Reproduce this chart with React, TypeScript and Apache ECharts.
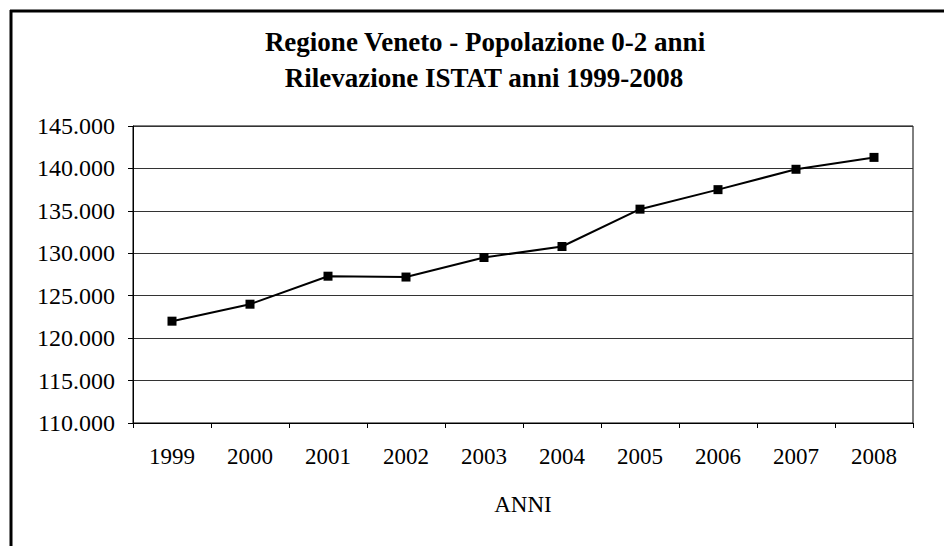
import React, { useEffect, useRef } from "react";
import * as echarts from "echarts";

const years = ["1999", "2000", "2001", "2002", "2003", "2004", "2005", "2006", "2007", "2008"];
const population = [122000, 124000, 127300, 127200, 129500, 130800, 135200, 137500, 139900, 141300];
const titleLine1 = "Regione Veneto - Popolazione 0-2 anni";
const titleLine2 = "Rilevazione ISTAT anni 1999-2008";
const xAxisName = "ANNI";
const yMin = 110000;
const yMax = 145000;
const yStep = 5000;

const FONT = "'Liberation Serif', 'Times New Roman', serif";

function fmt(v: number): string {
  return String(v).replace(/\B(?=(\d{3})+(?!\d))/g, ".");
}

export default function App() {
  const ref = useRef<HTMLDivElement>(null);
  useEffect(() => {
    if (!ref.current) return;
    const chart = echarts.init(ref.current, undefined, { renderer: "svg" });
    chart.setOption({
      animation: false,
      backgroundColor: "#ffffff",
      textStyle: { fontFamily: FONT, color: "#000" },
      graphic: [
        {
          type: "line",
          shape: { x1: 10, y1: 11, x2: 944, y2: 11 },
          style: { stroke: "#000", lineWidth: 3 },
        },
        {
          type: "line",
          shape: { x1: 11, y1: 10, x2: 11, y2: 546 },
          style: { stroke: "#000", lineWidth: 3 },
        },
        {
          type: "text",
          x: 485,
          y: 42,
          style: {
            text: titleLine1,
            textAlign: "center",
            textVerticalAlign: "middle",
            font: `bold 27px ${FONT}`,
            fill: "#000",
          },
        },
        {
          type: "text",
          x: 484,
          y: 78,
          style: {
            text: titleLine2,
            textAlign: "center",
            textVerticalAlign: "middle",
            font: `bold 27px ${FONT}`,
            fill: "#000",
          },
        },
      ],
      grid: {
        left: 133,
        right: 31,
        top: 126,
        bottom: 123,
        show: true,
        borderColor: "#000",
        borderWidth: 1,
        backgroundColor: "transparent",
      },
      xAxis: {
        type: "category",
        data: years,
        boundaryGap: true,
        name: xAxisName,
        nameLocation: "middle",
        nameGap: 70,
        nameTextStyle: { fontFamily: FONT, fontSize: 23, color: "#000" },
        axisLine: { lineStyle: { color: "#000", width: 1 } },
        axisTick: { show: true, length: 5, lineStyle: { color: "#000" } },
        axisLabel: { fontFamily: FONT, fontSize: 23, color: "#000", margin: 22 },
        splitLine: { show: false },
      },
      yAxis: {
        type: "value",
        min: yMin,
        max: yMax,
        interval: yStep,
        axisLine: { show: true, lineStyle: { color: "#000", width: 1 } },
        axisTick: { show: true, length: 5, lineStyle: { color: "#000" } },
        axisLabel: {
          fontFamily: FONT,
          fontSize: 24,
          color: "#000",
          margin: 18,
          formatter: (v: number) => fmt(v),
        },
        splitLine: { show: true, lineStyle: { color: "#333", width: 1 } },
      },
      series: [
        {
          type: "line",
          data: population,
          symbol: "rect",
          symbolSize: 9,
          lineStyle: { color: "#000", width: 2 },
          itemStyle: { color: "#000" },
        },
      ],
    });
    return () => chart.dispose();
  }, []);
  return (
    <div
      ref={ref}
      style={{ position: "fixed", left: 0, top: 0, width: 944, height: 546, background: "#fff" }}
    />
  );
}
